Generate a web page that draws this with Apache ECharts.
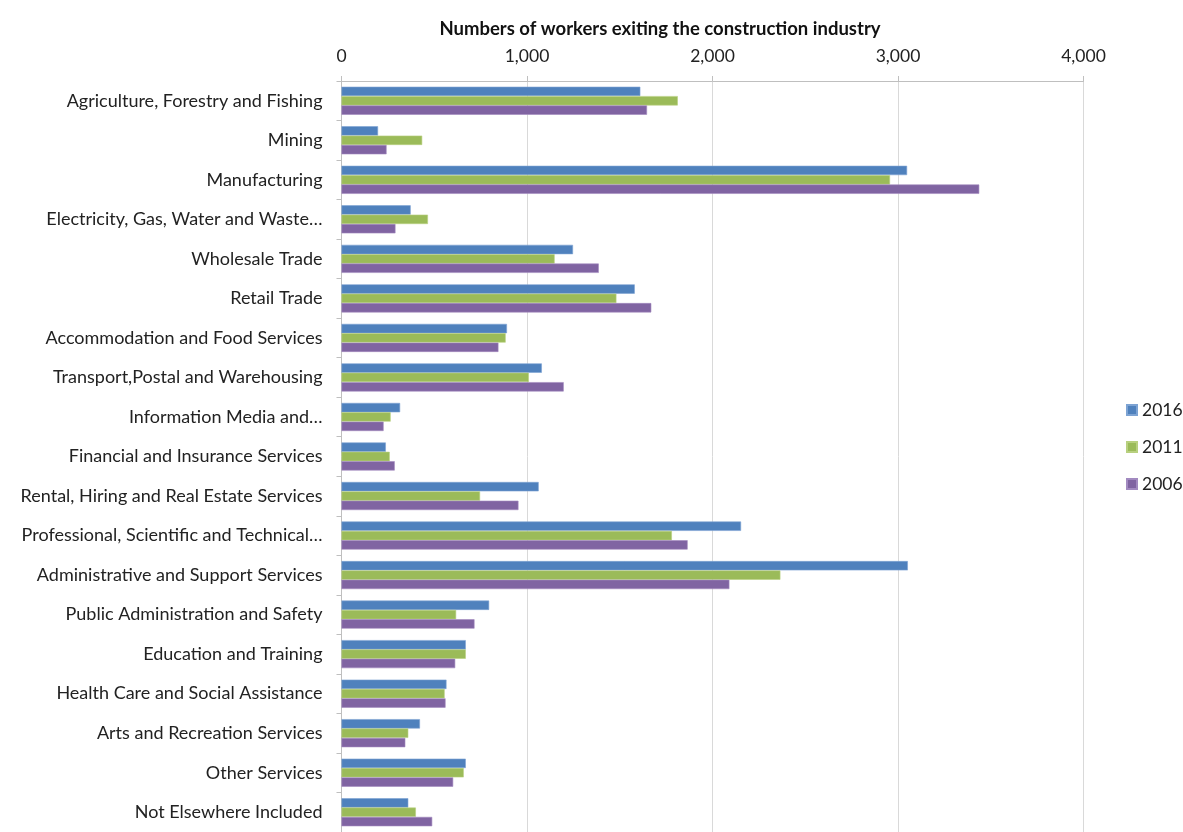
<!DOCTYPE html>
<html>
<head>
<meta charset="utf-8">
<script src="https://cdn.jsdelivr.net/npm/echarts@6/dist/echarts.min.js"></script>
<style>
  html, body { margin: 0; padding: 0; background: #fff; }
  #main { width: 1183px; height: 832px; }
</style>
</head>
<body>
<div id="main"></div>
<script>
const industries = [
  'Agriculture, Forestry and Fishing',
  'Mining',
  'Manufacturing',
  'Electricity, Gas, Water and Waste…',
  'Wholesale Trade',
  'Retail Trade',
  'Accommodation and Food Services',
  'Transport,Postal and Warehousing',
  'Information Media and…',
  'Financial and Insurance Services',
  'Rental, Hiring and Real Estate Services',
  'Professional, Scientific and Technical…',
  'Administrative and Support Services',
  'Public Administration and Safety',
  'Education and Training',
  'Health Care and Social Assistance',
  'Arts and Recreation Services',
  'Other Services',
  'Not Elsewhere Included'
];

const years = ['2016', '2011', '2006'];

const exits2016 = [1611, 197, 3049, 373, 1248, 1581, 892, 1080, 316, 239, 1063, 2154, 3053, 796, 670, 566, 423, 670, 360];
const exits2011 = [1813, 435, 2957, 466, 1149, 1482, 885, 1010, 265, 260, 747, 1781, 2366, 618, 670, 556, 360, 659, 401];
const exits2006 = [1647, 243, 3438, 291, 1387, 1670, 846, 1198, 227, 287, 954, 1866, 2091, 717, 613, 561, 344, 602, 489];

const xTicks = [0, 1000, 2000, 3000, 4000];

const colors = ['#4f81bd', '#9bbb59', '#8064a2'];
const borders = ['#7da3d3', '#b8d07f', '#a28ac0'];
const font = 'Lato, "Open Sans", sans-serif';

const chart = echarts.init(document.getElementById('main'));

function barSeries(i, data) {
  return {
    name: years[i],
    type: 'bar',
    data: data,
    barGap: '0%',
    barCategoryGap: '29%',
    itemStyle: { color: colors[i], borderColor: borders[i], borderWidth: 0.6 },
    emphasis: { disabled: true }
  };
}

chart.setOption({
  animation: false,
  color: colors,
  textStyle: { fontFamily: font },
  title: {
    text: 'Numbers of workers exiting the construction industry',
    left: 655,
    top: 15,
    textAlign: 'center',
    textStyle: { fontFamily: font, fontSize: 18.5, fontWeight: 'bold', color: '#111' }
  },
  legend: {
    orient: 'vertical',
    left: 1121,
    top: 396,
    itemWidth: 10,
    itemHeight: 10,
    itemGap: 19,
    icon: 'rect',
    data: years,
    textStyle: { fontFamily: font, fontSize: 17.5, color: '#222' }
  },
  grid: { left: 341.5, top: 81, width: 742, height: 754, containLabel: false },
  xAxis: {
    type: 'value',
    position: 'top',
    min: xTicks[0],
    max: xTicks[xTicks.length - 1],
    interval: 1000,
    axisLine: { show: true, lineStyle: { color: '#bfbfbf', width: 1 } },
    axisTick: { show: true, length: 5, lineStyle: { color: '#bfbfbf' } },
    splitLine: { show: true, lineStyle: { color: '#d9d9d9', width: 1 } },
    axisLabel: {
      margin: 16,
      fontFamily: font,
      fontSize: 17.5,
      color: '#222',
      formatter: v => v.toLocaleString('en-US')
    }
  },
  yAxis: {
    type: 'category',
    inverse: true,
    data: industries,
    axisLine: { show: true, lineStyle: { color: '#bfbfbf', width: 1 } },
    axisTick: { show: true, length: 5, lineStyle: { color: '#bfbfbf' } },
    axisLabel: { margin: 19, fontFamily: font, fontSize: 18, color: '#222' }
  },
  series: [
    barSeries(0, exits2016),
    barSeries(1, exits2011),
    barSeries(2, exits2006)
  ]
});
</script>
</body>
</html>
